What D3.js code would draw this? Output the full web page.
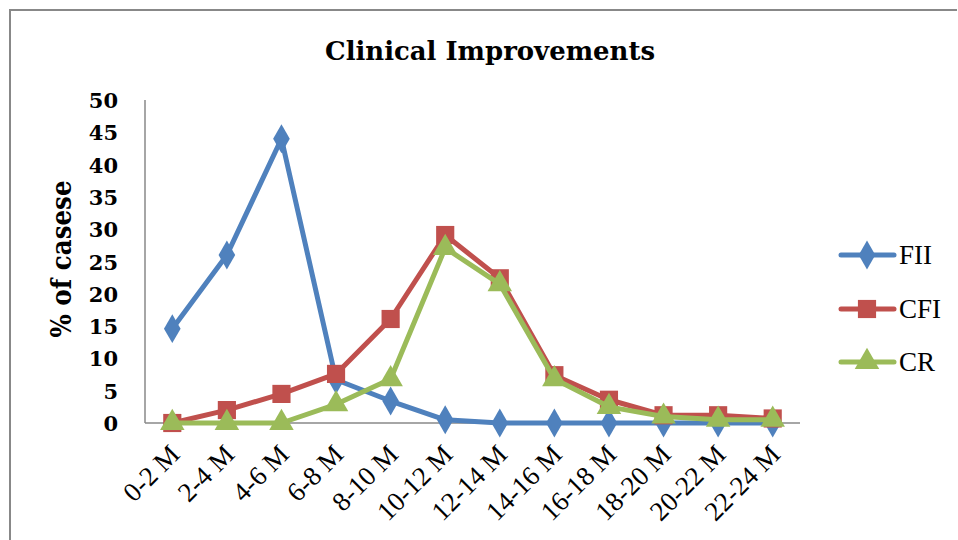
<!DOCTYPE html>
<html><head><meta charset="utf-8">
<script src="https://cdn.jsdelivr.net/npm/d3@7"></script>
<style>body{margin:0;background:#fff}svg{display:block}</style>
</head><body>
<svg id="c" width="958" height="540"></svg>
<script>
const categories = ["0-2 M","2-4 M","4-6 M","6-8 M","8-10 M","10-12 M","12-14 M","14-16 M","16-18 M","18-20 M","20-22 M","22-24 M"];
const FII = [14.6, 26, 44, 6.7, 3.4, 0.5, 0, 0, 0, 0, 0, 0];
const CFI = [0, 2, 4.5, 7.6, 16.1, 29.1, 22.4, 7.4, 3.6, 1.2, 1.2, 0.7];
const CR  = [0, 0, 0, 2.9, 6.8, 27.1, 21.5, 6.8, 2.5, 1, 0.5, 0.5];
const yTicks = [0,5,10,15,20,25,30,35,40,45,50];
const seriesNames = ["FII","CFI","CR"];

const series = [
  {name: seriesNames[0], values: FII, color: "#4F81BD", shape: d3.symbolDiamond, size: 240},
  {name: seriesNames[1], values: CFI, color: "#C0504D", shape: d3.symbolSquare, size: 330},
  {name: seriesNames[2], values: CR,  color: "#9BBB59", shape: d3.symbolTriangle, size: 260}
];

const svg = d3.select("#c");
// frame
svg.append("path").attr("d","M10,540 L10,10 L957,10").attr("fill","none").attr("stroke","#888").attr("stroke-width",2);

const x0 = 145, x1 = 800, yTop = 100, yBot = 423;
const x = d3.scaleBand().domain(categories).range([x0, x1]);
const y = d3.scaleLinear().domain([0, 50]).range([yBot, yTop]);

svg.append("text").attr("x", 490).attr("y", 60).attr("text-anchor","middle")
  .attr("font-family","'DejaVu Serif', serif").attr("font-weight","bold").attr("font-size",26)
  .attr("textLength", 330).attr("lengthAdjust","spacingAndGlyphs")
  .text("Clinical Improvements");

// y axis
const ya = svg.append("g").attr("transform",`translate(${x0},0)`).call(d3.axisLeft(y).tickValues(yTicks).tickSize(0).tickPadding(12));
ya.select(".domain").remove();
ya.selectAll("text").attr("font-family","'DejaVu Serif', serif").attr("font-weight","bold").attr("font-size",21).attr("fill","#000").attr("dy","0.36em").attr("x",-27);
svg.append("line").attr("x1",x0).attr("x2",x0).attr("y1",yTop).attr("y2",yBot).attr("stroke","#888").attr("stroke-width",1.5);

// x axis
const xa = svg.append("g").attr("transform",`translate(0,${yBot})`).call(d3.axisBottom(x).tickSize(0));
xa.select(".domain").remove();
xa.selectAll("text").style("font-family","'Liberation Serif', serif").style("font-size","27px").attr("fill","#000")
  .attr("text-anchor","end").attr("dy",0).attr("y",0)
  .attr("transform","translate(9,33) rotate(-45)");
svg.append("line").attr("x1",x0).attr("x2",x1).attr("y1",yBot).attr("y2",yBot).attr("stroke","#888").attr("stroke-width",1.5);

svg.append("text").attr("transform",`translate(71,259) rotate(-90)`).attr("text-anchor","middle")
  .attr("font-family","'DejaVu Serif', serif").attr("font-weight","bold").attr("font-size",28)
  .attr("textLength",157).attr("lengthAdjust","spacingAndGlyphs")
  .text("% of casese");

const cx = d => x(d) + x.bandwidth()/2;
const line = d3.line().x((v,i)=>cx(categories[i])).y(v=>y(v));

series.forEach(s => {
  const g = svg.append("g");
  g.append("path").attr("d", line(s.values)).attr("fill","none").attr("stroke", s.color).attr("stroke-width",5).attr("stroke-linejoin","round");
  g.selectAll("path.m").data(s.values).join("path").attr("class","m")
    .attr("d", d3.symbol().type(s.shape).size(s.size))
    .attr("transform",(v,i)=>`translate(${cx(categories[i])},${y(v)})`)
    .attr("fill", s.color);
});

// legend
const ly = [255, 309, 362];
series.forEach((s,i) => {
  const g = svg.append("g").attr("transform",`translate(0,${ly[i]})`);
  g.append("line").attr("x1",841).attr("x2",894).attr("y1",0).attr("y2",0).attr("stroke",s.color).attr("stroke-width",5).attr("stroke-linecap","round");
  g.append("path").attr("d", d3.symbol().type(s.shape).size(s.size)).attr("transform","translate(867,0)").attr("fill",s.color);
  g.append("text").attr("x",899).attr("y",0).attr("dy","0.34em").attr("font-family","'Liberation Serif', serif").attr("font-size",27).attr("fill","#000").text(s.name);
});
</script>
</body></html>
